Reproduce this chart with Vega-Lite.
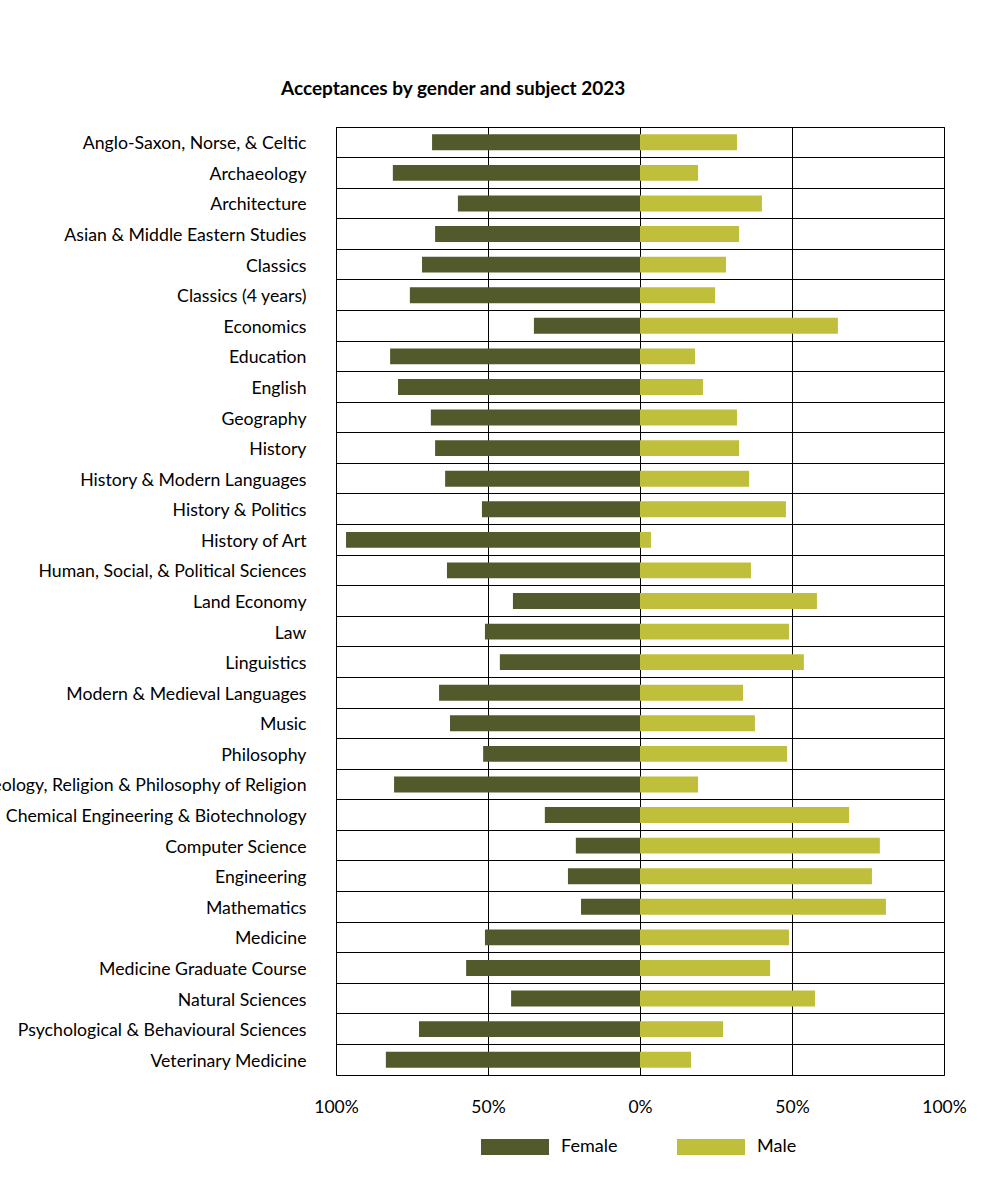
{
  "$schema": "https://vega.github.io/schema/vega-lite/v6.json",
  "autosize": {"type": "none"},
  "padding": {"left": 336, "top": 127, "right": 38, "bottom": 119},
  "width": 608,
  "height": 948,
  "background": "white",
  "title": {
    "text": "Acceptances by gender and subject 2023",
    "anchor": "start",
    "frame": "group",
    "dx": -55,
    "offset": 28,
    "font": "Lato",
    "fontSize": 19,
    "fontWeight": "bold",
    "color": "black"
  },
  "data": {
    "values": [
      {"subject": "Anglo-Saxon, Norse, & Celtic", "gender": "Female", "value": -0.684},
      {"subject": "Anglo-Saxon, Norse, & Celtic", "gender": "Male", "value": 0.319},
      {"subject": "Archaeology", "gender": "Female", "value": -0.813},
      {"subject": "Archaeology", "gender": "Male", "value": 0.191},
      {"subject": "Architecture", "gender": "Female", "value": -0.599},
      {"subject": "Architecture", "gender": "Male", "value": 0.401},
      {"subject": "Asian & Middle Eastern Studies", "gender": "Female", "value": -0.674},
      {"subject": "Asian & Middle Eastern Studies", "gender": "Male", "value": 0.326},
      {"subject": "Classics", "gender": "Female", "value": -0.717},
      {"subject": "Classics", "gender": "Male", "value": 0.283},
      {"subject": "Classics (4 years)", "gender": "Female", "value": -0.757},
      {"subject": "Classics (4 years)", "gender": "Male", "value": 0.247},
      {"subject": "Economics", "gender": "Female", "value": -0.349},
      {"subject": "Economics", "gender": "Male", "value": 0.651},
      {"subject": "Education", "gender": "Female", "value": -0.822},
      {"subject": "Education", "gender": "Male", "value": 0.181},
      {"subject": "English", "gender": "Female", "value": -0.796},
      {"subject": "English", "gender": "Male", "value": 0.207},
      {"subject": "Geography", "gender": "Female", "value": -0.688},
      {"subject": "Geography", "gender": "Male", "value": 0.319},
      {"subject": "History", "gender": "Female", "value": -0.674},
      {"subject": "History", "gender": "Male", "value": 0.326},
      {"subject": "History & Modern Languages", "gender": "Female", "value": -0.641},
      {"subject": "History & Modern Languages", "gender": "Male", "value": 0.359},
      {"subject": "History & Politics", "gender": "Female", "value": -0.52},
      {"subject": "History & Politics", "gender": "Male", "value": 0.48},
      {"subject": "History of Art", "gender": "Female", "value": -0.967},
      {"subject": "History of Art", "gender": "Male", "value": 0.036},
      {"subject": "Human, Social, & Political Sciences", "gender": "Female", "value": -0.635},
      {"subject": "Human, Social, & Political Sciences", "gender": "Male", "value": 0.365},
      {"subject": "Land Economy", "gender": "Female", "value": -0.418},
      {"subject": "Land Economy", "gender": "Male", "value": 0.582},
      {"subject": "Law", "gender": "Female", "value": -0.51},
      {"subject": "Law", "gender": "Male", "value": 0.49},
      {"subject": "Linguistics", "gender": "Female", "value": -0.461},
      {"subject": "Linguistics", "gender": "Male", "value": 0.539},
      {"subject": "Modern & Medieval Languages", "gender": "Female", "value": -0.661},
      {"subject": "Modern & Medieval Languages", "gender": "Male", "value": 0.339},
      {"subject": "Music", "gender": "Female", "value": -0.625},
      {"subject": "Music", "gender": "Male", "value": 0.378},
      {"subject": "Philosophy", "gender": "Female", "value": -0.516},
      {"subject": "Philosophy", "gender": "Male", "value": 0.484},
      {"subject": "Theology, Religion & Philosophy of Religion", "gender": "Female", "value": -0.809},
      {"subject": "Theology, Religion & Philosophy of Religion", "gender": "Male", "value": 0.191},
      {"subject": "Chemical Engineering & Biotechnology", "gender": "Female", "value": -0.313},
      {"subject": "Chemical Engineering & Biotechnology", "gender": "Male", "value": 0.688},
      {"subject": "Computer Science", "gender": "Female", "value": -0.211},
      {"subject": "Computer Science", "gender": "Male", "value": 0.789},
      {"subject": "Engineering", "gender": "Female", "value": -0.237},
      {"subject": "Engineering", "gender": "Male", "value": 0.763},
      {"subject": "Mathematics", "gender": "Female", "value": -0.194},
      {"subject": "Mathematics", "gender": "Male", "value": 0.809},
      {"subject": "Medicine", "gender": "Female", "value": -0.51},
      {"subject": "Medicine", "gender": "Male", "value": 0.49},
      {"subject": "Medicine Graduate Course", "gender": "Female", "value": -0.572},
      {"subject": "Medicine Graduate Course", "gender": "Male", "value": 0.428},
      {"subject": "Natural Sciences", "gender": "Female", "value": -0.424},
      {"subject": "Natural Sciences", "gender": "Male", "value": 0.576},
      {"subject": "Psychological & Behavioural Sciences", "gender": "Female", "value": -0.727},
      {"subject": "Psychological & Behavioural Sciences", "gender": "Male", "value": 0.273},
      {"subject": "Veterinary Medicine", "gender": "Female", "value": -0.836},
      {"subject": "Veterinary Medicine", "gender": "Male", "value": 0.168}
    ]
  },
  "mark": {"type": "bar", "height": {"band": 0.52}},
  "encoding": {
    "y": {
      "field": "subject",
      "type": "nominal",
      "sort": null,
      "title": null,
      "scale": {"paddingInner": 0, "paddingOuter": 0},
      "axis": {
        "grid": true,
        "bandPosition": 0,
        "gridColor": "black",
        "gridWidth": 1,
        "gridOpacity": 1,
        "ticks": false,
        "domain": false,
        "labelPadding": 30,
        "labelOffset": 2,
        "labelFont": "Lato",
        "labelFontSize": 17.7,
        "labelColor": "black",
        "labelLimit": 0
      }
    },
    "x": {
      "field": "value",
      "type": "quantitative",
      "title": null,
      "scale": {"domain": [-1, 1], "nice": false, "zero": false},
      "axis": {
        "values": [-1, -0.5, 0, 0.5, 1],
        "labelExpr": "format(abs(datum.value), '.0%')",
        "grid": true,
        "gridColor": "black",
        "gridOpacity": 1,
        "gridWidth": 1,
        "ticks": false,
        "domain": false,
        "labelFlush": false,
        "labelPadding": 23,
        "labelFont": "Lato",
        "labelFontSize": 17.5,
        "labelColor": "black"
      }
    },
    "color": {
      "field": "gender",
      "type": "nominal",
      "scale": {"domain": ["Female", "Male"], "range": ["#525a2c", "#bfbf3c"]},
      "legend": {
        "title": null,
        "orient": "none",
        "direction": "horizontal",
        "legendX": 145,
        "legendY": 986,
        "symbolType": "M-1,-0.235L1,-0.235L1,0.235L-1,0.235Z",
        "symbolSize": 4624,
        "symbolStrokeWidth": 0,
        "symbolOpacity": 1,
        "labelOffset": 12,
        "columnPadding": 59,
        "labelFont": "Lato",
        "labelFontSize": 18,
        "labelColor": "black"
      }
    }
  },
  "config": {
    "view": {"stroke": "black", "strokeWidth": 1}
  }
}
